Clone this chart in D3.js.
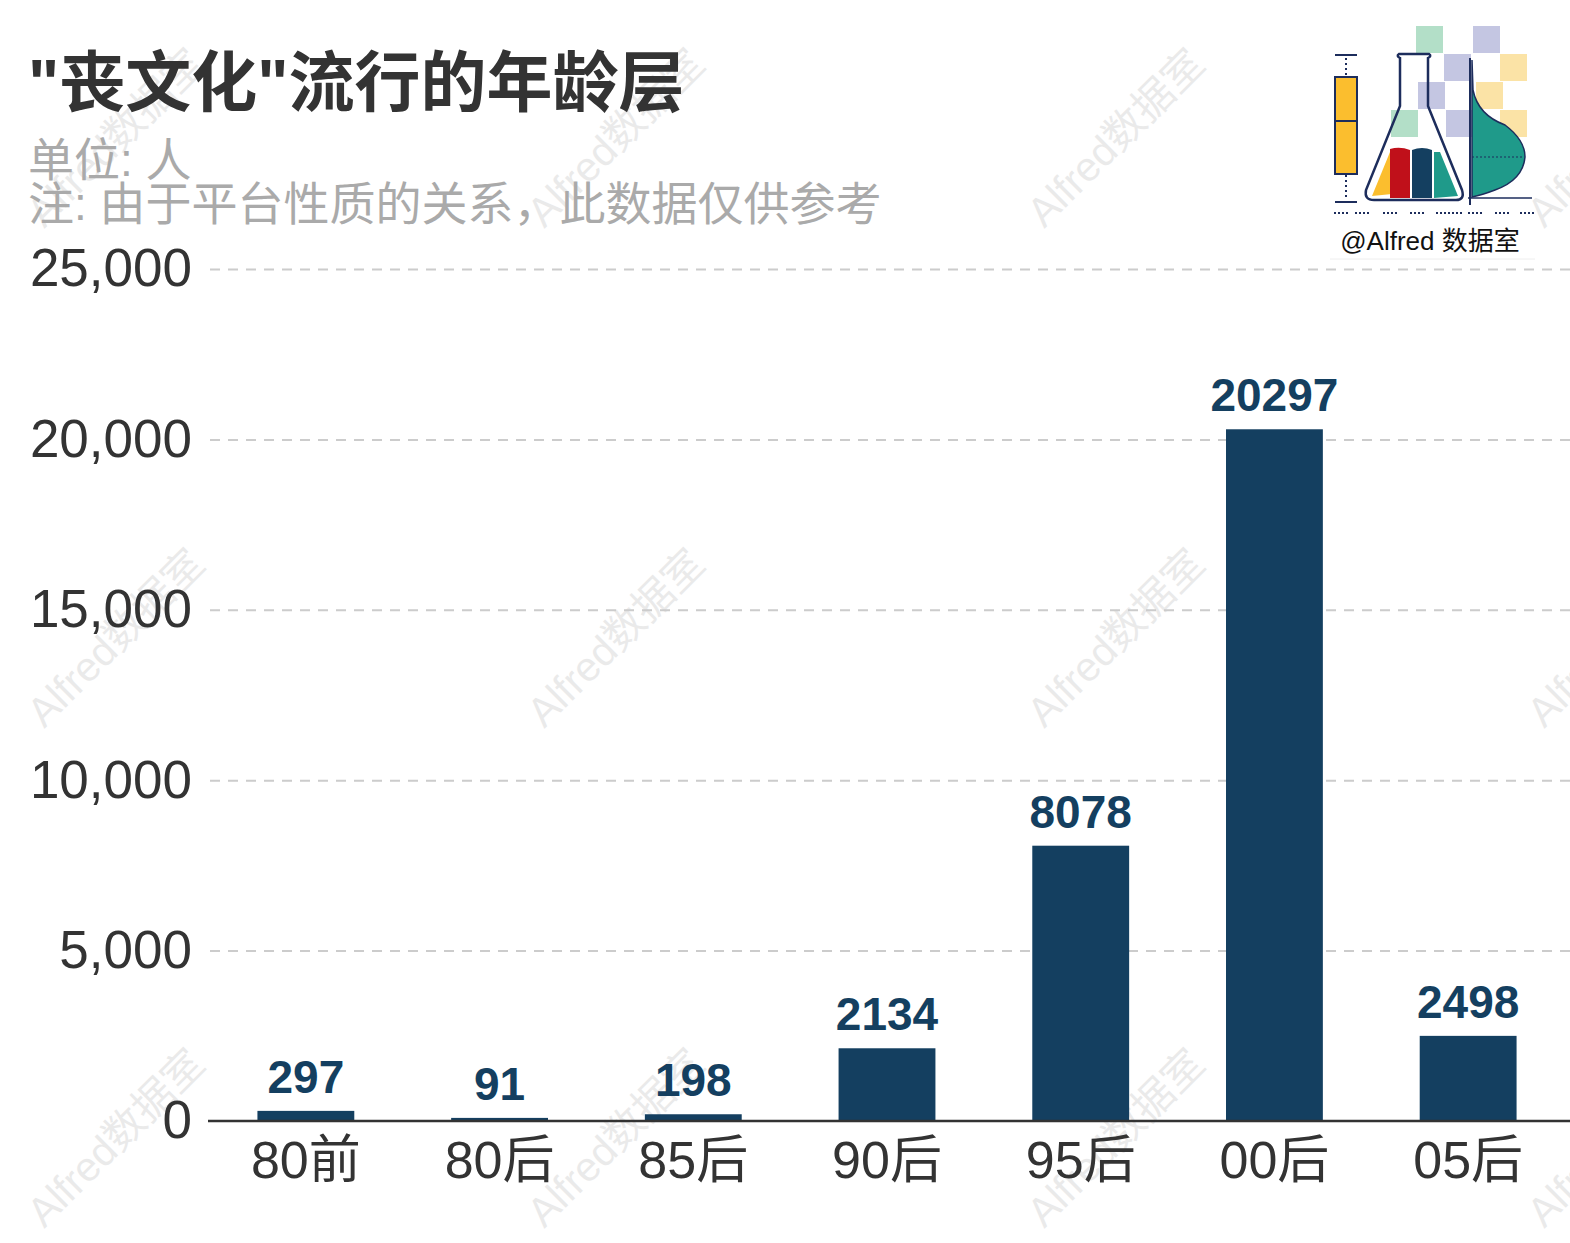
<!DOCTYPE html>
<html><head><meta charset="utf-8">
<script src="https://cdn.jsdelivr.net/npm/d3@7"></script>
<style>body{margin:0;background:#fff}svg{display:block}</style>
</head><body>
<script>
const categories = ["80前","80后","85后","90后","95后","00后","05后"];
const values = [297, 91, 198, 2134, 8078, 20297, 2498];
const yTicks = [0, 5000, 10000, 15000, 20000, 25000];
const titleText = "\"丧文化\"流行的年龄层";
const subLines = ["单位: 人", "注: 由于平台性质的关系，此数据仅供参考"];

const W = 1570, H = 1243;
const svg = d3.select("body").append("svg").attr("width", W).attr("height", H);
const font = "'Liberation Sans','Noto Sans CJK SC',sans-serif";
const barColor = "#143f60";

const x = d3.scaleBand().domain(categories).range([209, 1565]).paddingInner(0.5).paddingOuter(0.25);
const y = d3.scaleLinear().domain([0, 25000]).range([1121, 269]);

// watermark
const wm = svg.append("g");
for (let gx = 0; gx < 4; gx++) for (let gy = 0; gy < 3; gy++) {
  wm.append("text").attr("transform", `translate(${118 + gx*500},${140 + gy*500}) rotate(-45)`)
    .attr("text-anchor", "middle").attr("dominant-baseline", "middle")
    .style("font-family", font).style("font-size", "41px").attr("fill", "#000").attr("opacity", 0.08)
    .text("Alfred数据室");
}

// grid + y axis
const yAxis = d3.axisLeft(y).tickValues(yTicks).tickSize(0).tickPadding(16).tickFormat(d3.format(","));
const gy = svg.append("g").attr("transform", "translate(208,0)").call(yAxis);
gy.select(".domain").remove();
gy.selectAll("text").style("font-family", font).style("font-size", "53px").attr("fill", "#333");
gy.selectAll(".tick").filter(d => d !== 0).append("line")
  .attr("x1", 2).attr("x2", W - 208).attr("stroke", "#cccccc").attr("stroke-width", 2).attr("stroke-dasharray", "10,8");

// bars
svg.append("g").selectAll("rect").data(values).join("rect")
  .attr("x", (d, i) => x(categories[i])).attr("width", x.bandwidth())
  .attr("y", d => y(d)).attr("height", d => y(0) - y(d)).attr("fill", barColor);

// value labels
svg.append("g").selectAll("text").data(values).join("text")
  .attr("x", (d, i) => x(categories[i]) + x.bandwidth()/2).attr("y", d => y(d) - 18)
  .attr("text-anchor", "middle").style("font-family", font).style("font-weight", "bold")
  .style("font-size", "46px").attr("fill", barColor).text(d => d);

// x axis
const xAxis = d3.axisBottom(x).tickSize(0).tickPadding(20);
const gx = svg.append("g").attr("transform", `translate(0,${y(0)})`).call(xAxis);
gx.select(".domain").remove();
svg.append("line").attr("x1", 208).attr("x2", W).attr("y1", y(0)).attr("y2", y(0)).attr("stroke", "#333").attr("stroke-width", 2.5);
gx.selectAll("text").style("font-family", font).style("font-size", "52px").attr("fill", "#333");

// title
svg.append("text").attr("x", 28).attr("y", 106).style("font-family", font).style("font-weight", "bold")
  .style("font-size", "66px").attr("fill", "#333").text(titleText);
subLines.forEach((t, i) => svg.append("text").attr("x", 28).attr("y", 176 + i*44)
  .style("font-family", font).style("font-size", "46px").attr("fill", "#aaa").text(t));

// logo
const lg = svg.append("g");
const sq = [[1416,26,"#b3dfc8"],[1473,26,"#c4c6e2"],[1444,54,"#c4c6e2"],[1500,54,"#fbe3a6"],[1418,82,"#c4c6e2"],[1476,82,"#fbe3a6"],[1391,110,"#b3dfc8"],[1446,110,"#c4c6e2"],[1500,110,"#fbe3a6"]];
sq.forEach(s => lg.append("rect").attr("x", s[0]).attr("y", s[1]).attr("width", 27).attr("height", 27).attr("fill", s[2]));
lg.append("line").attr("x1",1335).attr("x2",1357).attr("y1",55).attr("y2",55).attr("stroke","#1d2d5c").attr("stroke-width",2);
lg.append("line").attr("x1",1335).attr("x2",1357).attr("y1",202).attr("y2",202).attr("stroke","#1d2d5c").attr("stroke-width",2);
lg.append("line").attr("x1",1346).attr("x2",1346).attr("y1",58).attr("y2",77).attr("stroke","#1d2d5c").attr("stroke-width",2).attr("stroke-dasharray","2,3");
lg.append("line").attr("x1",1346).attr("x2",1346).attr("y1",175).attr("y2",200).attr("stroke","#1d2d5c").attr("stroke-width",2).attr("stroke-dasharray","2,3");
lg.append("rect").attr("x",1335).attr("y",77).attr("width",22).attr("height",97).attr("fill","#fbbe2e").attr("stroke","#1d2d5c").attr("stroke-width",2);
lg.append("line").attr("x1",1335).attr("x2",1357).attr("y1",121).attr("y2",121).attr("stroke","#1d2d5c").attr("stroke-width",2);
lg.append("path").attr("d","M1378,199 L1392,155 L1398,140 L1431,140 L1455,199 Z").attr("fill","#fff");
lg.append("path").attr("d","M1372,196 L1390,152 L1392,149 L1392,194 Z").attr("fill","#fbbe2e");
lg.append("path").attr("d","M1390,149 Q1400,146 1410,150 L1410,198 L1390,198 Z").attr("fill","#c0101a");
lg.append("path").attr("d","M1412,150 Q1422,146 1432,150 L1432,198 L1412,198 Z").attr("fill","#143f60");
lg.append("path").attr("d","M1434,152 L1440,152 L1458,196 L1434,198 Z").attr("fill","#1f9a8a");
lg.append("path").attr("d","M1400,58 L1400,106 L1366,190 Q1364,200 1374,200 L1456,200 Q1465,200 1462,190 L1428,106 L1428,58 Q1432,56 1429,54 L1399,54 Q1396,56 1400,58 Z")
  .attr("fill","none").attr("stroke","#1d2d5c").attr("stroke-width",2.5);
lg.append("path").attr("d","M1472,60 L1473,90 Q1478,115 1505,125 Q1525,140 1525,157 Q1523,180 1495,190 Q1482,195 1472,197 Z").attr("fill","#1f9a8a").attr("stroke","#1d2d5c").attr("stroke-width",1.5);
lg.append("line").attr("x1",1472).attr("x2",1523).attr("y1",157).attr("y2",157).attr("stroke","#1d2d5c").attr("stroke-width",1).attr("stroke-dasharray","2,2");
lg.append("line").attr("x1",1470).attr("x2",1470).attr("y1",58).attr("y2",205).attr("stroke","#1d2d5c").attr("stroke-width",2);
lg.append("line").attr("x1",1468).attr("x2",1532).attr("y1",198).attr("y2",198).attr("stroke","#1d2d5c").attr("stroke-width",1.5);
[1334,1355,1383,1410,1436,1448,1468,1495,1520].forEach(bx => lg.append("line").attr("x1",bx).attr("x2",bx+14).attr("y1",213).attr("y2",213).attr("stroke","#1d2d5c").attr("stroke-width",2).attr("stroke-dasharray","2,2"));
lg.append("text").attr("x",1430).attr("y",250).attr("text-anchor","middle").style("font-family",font)
  .style("font-size","26px").attr("fill","#111").text("@Alfred 数据室");
lg.append("line").attr("x1",1330).attr("x2",1535).attr("y1",259).attr("y2",259).attr("stroke","#eee").attr("stroke-width",1);
</script>
</body></html>
